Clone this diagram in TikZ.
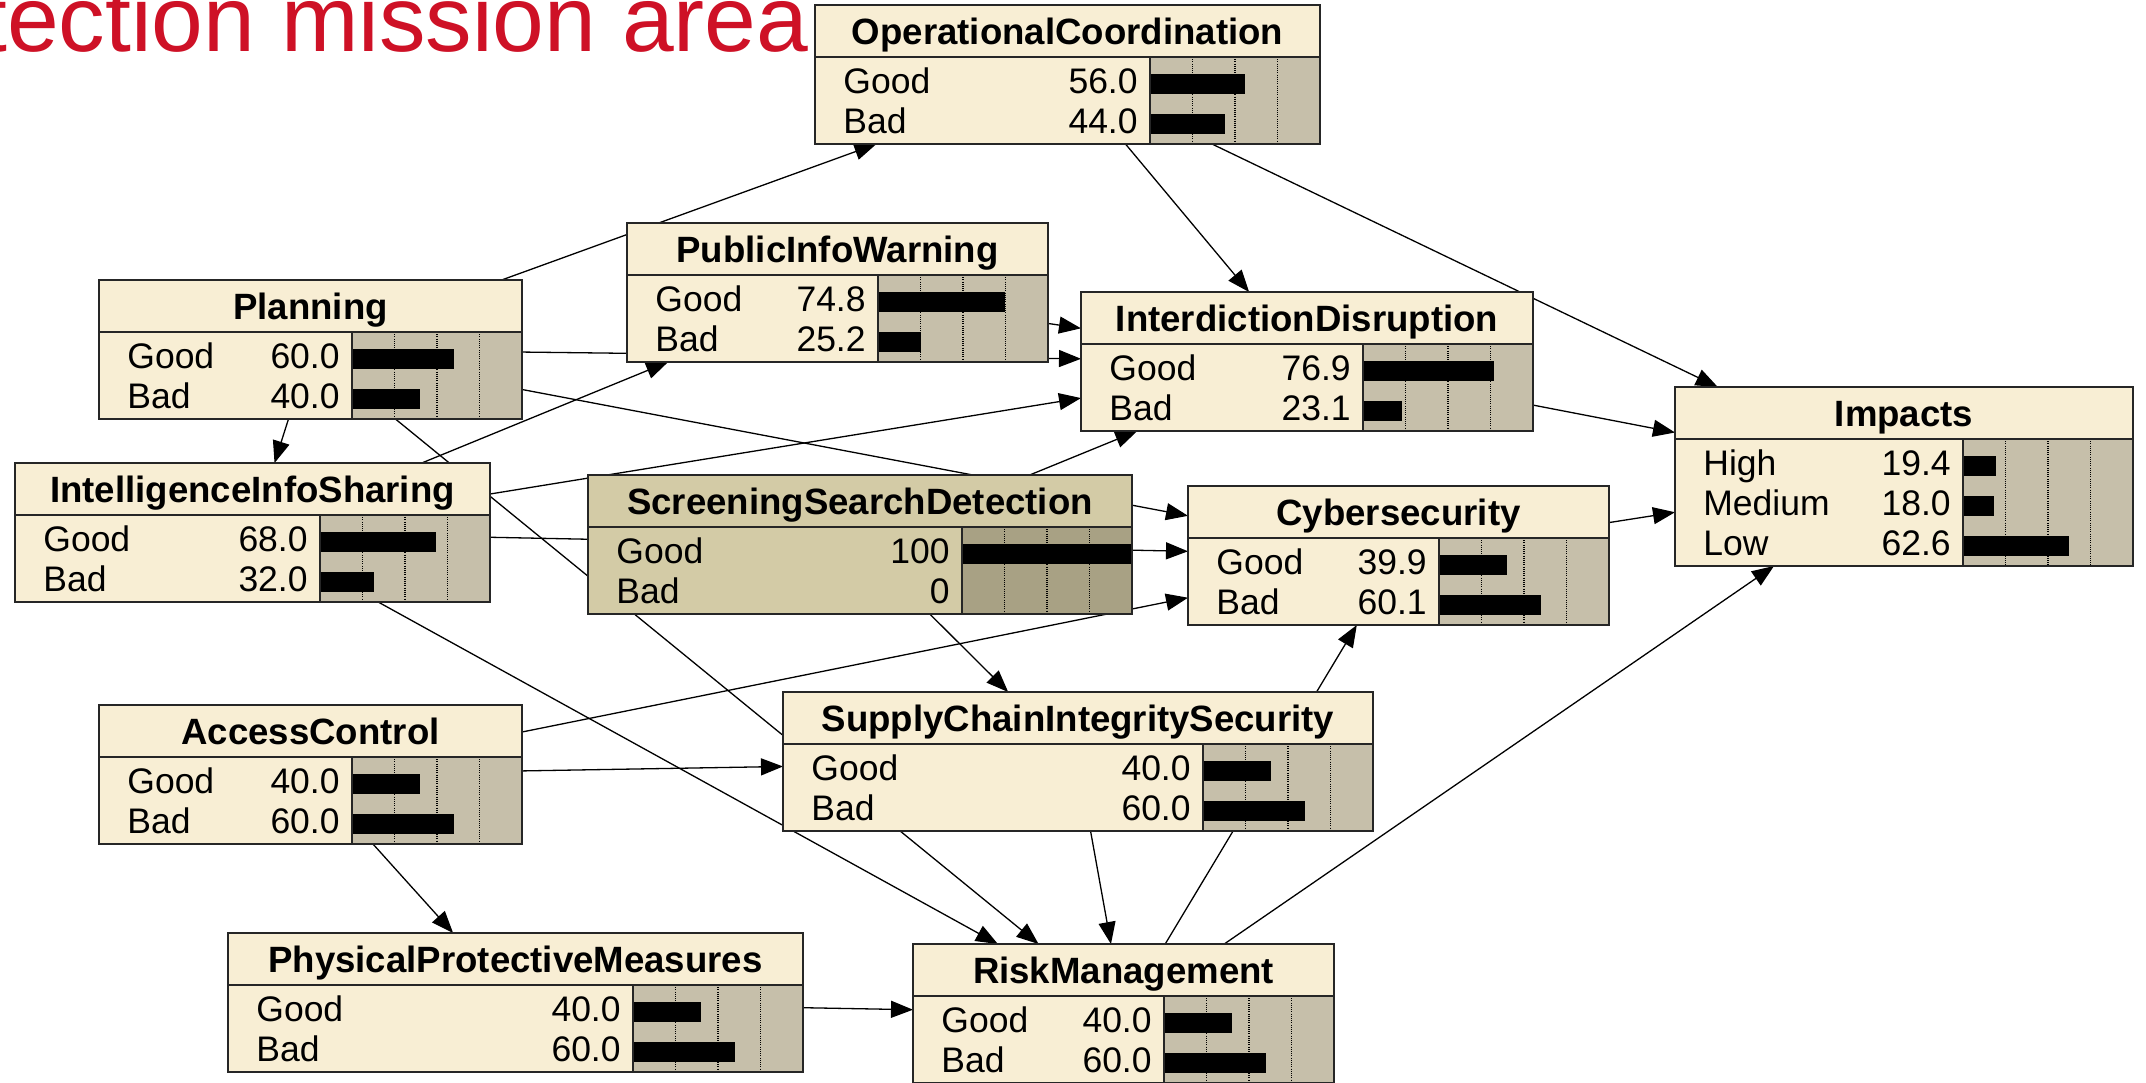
\documentclass[tikz,border=0pt]{standalone}
\usepackage{fontspec}
\newfontfamily\bnfont{Liberation Sans}
\usetikzlibrary{arrows.meta}

\pgfdeclarelayer{bg}
\pgfdeclarelayer{edges}
\pgfsetlayers{bg,edges,main}

\definecolor{plainbody}{RGB}{248,238,212}
\definecolor{plainbar}{RGB}{198,191,170}
\definecolor{evidencebody}{RGB}{211,203,166}
\definecolor{evidencebar}{RGB}{168,161,132}
\definecolor{titlered}{RGB}{206,17,38}

\tikzset{
  bnframe/.style={rectangle, inner sep=0pt, outer sep=0pt},
  bnline/.style={draw=black!85, line width=0.9pt},
  bngrid/.style={black, line width=0.6pt, dash pattern=on 0.5pt off 0.6pt},
  bntitle/.style={inner sep=0pt, font=\bnfont\bfseries\fontsize{18.3pt}{20pt}\selectfont},
  bnlabel/.style={inner sep=0pt, font=\bnfont\fontsize{17.75pt}{20pt}\selectfont},
  bnedge/.style={line width=0.65pt, -{Triangle[length=11pt,width=8.5pt]}},
  headline/.style={inner sep=0pt, text=titlered, font=\bnfont\fontsize{46.5pt}{50pt}\selectfont},
}

% A belief-network node: header with the name, one row per state with
% its probability and a bar (scale 0..100 over 170 units).
% #1 colour scheme, #2 name, #3 left, #4 top, #5 right, #6 rows, #7 title, #8 states
\newcommand\bnnode[8][plain]{%
  \pgfmathsetmacro\bnbottom{#4+59+40*#6}%
  \pgfmathsetmacro\bnsep{#4+52}%
  \pgfmathsetmacro\bnbar{#5-170}%
  \pgfmathsetmacro\bncx{(#3+#5)/2}%
  \pgfmathsetmacro\bncy{(#4+\bnbottom)/2}%
  \pgfmathsetmacro\bnw{(#5-#3)*0.5}%
  \pgfmathsetmacro\bnh{(\bnbottom-#4)*0.5}%
  \node[bnframe, minimum width=\bnw pt, minimum height=\bnh pt] (#2) at (\bncx,\bncy) {};
  \fill[#1body] (#3,#4) rectangle (#5,\bnbottom);
  \fill[#1bar] (\bnbar,\bnsep) rectangle (#5,\bnbottom);
  \foreach \q in {0.25,0.5,0.75}
    \draw[bngrid] ({\bnbar+170*\q},\bnsep) -- ({\bnbar+170*\q},\bnbottom);
  \foreach \lab/\val/\fr [count=\i] in {#8} {
    \pgfmathsetmacro\rc{\bnsep+27+40*(\i-1)}
    \fill[black] (\bnbar,\rc-10) rectangle ({\bnbar+170*\fr},\rc+10);
    \node[bnlabel, anchor=base west] at (#3+28,\rc+9) {\lab};
    \node[bnlabel, anchor=base east] at (\bnbar-12,\rc+9) {\val};
  }
  \node[bntitle, anchor=base] at (\bncx,#4+39.5) {#7};
  \draw[bnline] (#3,#4) rectangle (#5,\bnbottom);
  \draw[bnline] (#3,\bnsep) -- (#5,\bnsep);
  \draw[bnline] (\bnbar,\bnsep) -- (\bnbar,\bnbottom);
}

\begin{document}
\begin{tikzpicture}[x=0.5pt, y=-0.5pt]
\begin{pgfonlayer}{bg}
  \fill[white] (0,0) rectangle (2146,1082);
\end{pgfonlayer}
\useasboundingbox (0,0) rectangle (2146,1082);

\node[headline, anchor=base west] (headline) at (-19,51) {tection mission area};

\bnnode{oc}{815}{5}{1320}{2}{OperationalCoordination}{Good/56.0/0.56, Bad/44.0/0.44}
\bnnode{piw}{627}{223}{1048}{2}{PublicInfoWarning}{Good/74.8/0.748, Bad/25.2/0.252}
\bnnode{planning}{99}{280}{522}{2}{Planning}{Good/60.0/0.6, Bad/40.0/0.4}
\bnnode{interdiction}{1081}{292}{1533}{2}{InterdictionDisruption}{Good/76.9/0.769, Bad/23.1/0.231}
\bnnode{impacts}{1675}{387}{2133}{3}{Impacts}{High/19.4/0.194, Medium/18.0/0.18, Low/62.6/0.626}
\bnnode{iis}{15}{463}{490}{2}{IntelligenceInfoSharing}{Good/68.0/0.68, Bad/32.0/0.32}
\bnnode[evidence]{screening}{588}{475}{1132}{2}{ScreeningSearchDetection}{Good/100/1, Bad/0/0}
\bnnode{cyber}{1188}{486}{1609}{2}{Cybersecurity}{Good/39.9/0.399, Bad/60.1/0.601}
\bnnode{access}{99}{705}{522}{2}{AccessControl}{Good/40.0/0.4, Bad/60.0/0.6}
\bnnode{supply}{783}{692}{1373}{2}{SupplyChainIntegritySecurity}{Good/40.0/0.4, Bad/60.0/0.6}
\bnnode{physical}{228}{933}{803}{2}{PhysicalProtectiveMeasures}{Good/40.0/0.4, Bad/60.0/0.6}
\bnnode{risk}{913}{944}{1334}{2}{RiskManagement}{Good/40.0/0.4, Bad/60.0/0.6}

\begin{pgfonlayer}{edges}
  \draw[bnedge] (planning) -- (oc);
  \draw[bnedge] (planning) -- (interdiction);
  \draw[bnedge] (planning) -- (iis);
  \draw[bnedge] (planning) -- (cyber);
  \draw[bnedge] (planning) -- (risk);
  \draw[bnedge] (piw) -- (interdiction);
  \draw[bnedge] (iis) -- (piw);
  \draw[bnedge] (iis) -- (interdiction);
  \draw[bnedge] (iis) -- (cyber);
  \draw[bnedge] (iis) -- (risk);
  \draw[bnedge] (oc) -- (interdiction);
  \draw[bnedge] (oc) -- (impacts);
  \draw[bnedge] (screening) -- (interdiction);
  \draw[bnedge] (screening) -- (supply);
  \draw[bnedge] (access) -- (cyber);
  \draw[bnedge] (access) -- (supply);
  \draw[bnedge] (access) -- (physical);
  \draw[bnedge] (physical) -- (risk);
  \draw[bnedge] (supply) -- (risk);
  \draw[bnedge] (risk) -- (cyber);
  \draw[bnedge] (risk) -- (impacts);
  \draw[bnedge] (interdiction) -- (impacts);
  \draw[bnedge] (cyber) -- (impacts);
\end{pgfonlayer}
\end{tikzpicture}
\end{document}
